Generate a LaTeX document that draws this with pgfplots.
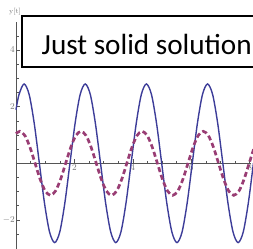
\documentclass[border=0pt]{standalone}
\usepackage{pgfplots}
\pgfplotsset{compat=1.18}
\usepackage{fontspec}
\newfontfamily\carlito{Carlito}
\definecolor{solidc}{RGB}{61,61,153}
\definecolor{dashc}{RGB}{153,61,116}
\definecolor{axc}{RGB}{85,85,85}
\definecolor{labc}{RGB}{120,120,120}
\begin{document}
\begin{tikzpicture}[x=1pt,y=1pt]
\useasboundingbox (0,0) rectangle (253,248);
\clip (0,0) rectangle (253,248);
\begin{axis}[
  anchor=origin, at={(16pt,84.7pt)},
  x=29.2pt, y=28.33pt,
  axis lines=middle,
  xmin=0, xmax=8.05, ymin=-3.1, ymax=4.99,
  axis line style={-},
  x axis line style={line width=1.5pt, color=axc},
  y axis line style={line width=1pt, color=axc},
  xtick={2,4,6,8}, ytick={-2,2,4},
  minor xtick={0.5,1,1.5,2.5,3,3.5,4.5,5,5.5,6.5,7,7.5},
  minor ytick={-2.5,-1.5,-1,-0.5,0.5,1,1.5,2.5,3,3.5,4.5},
  tick align=inside,
  major tick length=4pt, minor tick length=2.5pt,
  tick style={color=axc, line width=0.6pt},
  tick label style={font=\fontsize{9}{9}\selectfont, color=labc},
  yticklabel style={inner sep=1pt},
  xticklabel style={inner sep=1pt},
  clip=false,
]
\addplot[color=solidc, line width=1.4pt, smooth] coordinates {
(0,1.89) (0.1022,2.425) (0.2767,2.8) (0.4512,2.425) (0.6258,1.4) (0.8003,0) (0.9748,-1.4)
(1.1494,-2.425) (1.3239,-2.8) (1.4984,-2.425) (1.6729,-1.4) (1.8475,0) (2.0220,1.4)
(2.1965,2.425) (2.3711,2.8) (2.5456,2.425) (2.7201,1.4) (2.8947,0) (3.0692,-1.4)
(3.2437,-2.425) (3.4182,-2.8) (3.5928,-2.425) (3.7673,-1.4) (3.9418,0) (4.1164,1.4)
(4.2909,2.425) (4.4654,2.8) (4.6400,2.425) (4.8145,1.4) (4.9890,0) (5.1635,-1.4)
(5.3381,-2.425) (5.5126,-2.8) (5.6871,-2.425) (5.8617,-1.4) (6.0362,0) (6.2107,1.4)
(6.3853,2.425) (6.5598,2.8) (6.7343,2.425) (6.9088,1.4) (7.0834,0) (7.2579,-1.4)
(7.4324,-2.425) (7.6070,-2.8) (7.7815,-2.425) (7.9560,-1.4) (8.1306,0)
};
\addplot[color=dashc, line width=2.7pt, smooth, dash pattern=on 5pt off 3pt] coordinates {
(0,1.045) (0.13,1.13) (0.3045,0.979) (0.4791,0.565) (0.6536,0) (0.8281,-0.565) (1.0027,-0.979)
(1.1772,-1.13) (1.3517,-0.979) (1.5262,-0.565) (1.7008,0) (1.8753,0.565) (2.0498,0.979)
(2.2244,1.13) (2.3989,0.979) (2.5734,0.565) (2.7480,0) (2.9225,-0.565) (3.0970,-0.979)
(3.2715,-1.13) (3.4461,-0.979) (3.6206,-0.565) (3.7951,0) (3.9697,0.565) (4.1442,0.979)
(4.3187,1.13) (4.4933,0.979) (4.6678,0.565) (4.8423,0) (5.0168,-0.565) (5.1914,-0.979)
(5.3659,-1.13) (5.5404,-0.979) (5.7150,-0.565) (5.8895,0) (6.0640,0.565) (6.2386,0.979)
(6.4131,1.13) (6.5876,0.979) (6.7621,0.565) (6.9367,0) (7.1112,-0.565) (7.2857,-0.979)
(7.4603,-1.13) (7.6348,-0.979) (7.8093,-0.565) (7.9839,0) (8.1584,0.565)
};
\end{axis}
\node[anchor=base, inner sep=0pt, text=labc, font=\fontsize{7}{7}\selectfont] at (15,234) {y[t]};
\draw[line width=2pt, fill=white] (22,232) rectangle (275,181);
\node[anchor=base west, inner sep=0pt, font=\carlito\fontsize{29.2}{29.2}\selectfont] at (41.5,193) {Just solid solution};
\end{tikzpicture}
\end{document}
